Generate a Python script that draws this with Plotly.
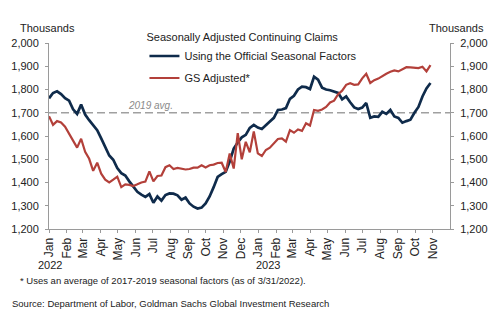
import pandas as pd
import plotly.graph_objects as go

# Weekly continuing claims (thousands), weeks ending Saturday from 2022-01-01
weeks = pd.date_range("2022-01-01", periods=96, freq="7D")

official_sa = [
    1762, 1785, 1792, 1780, 1763, 1752, 1715, 1695, 1735, 1692,
    1668, 1645, 1625, 1590, 1550, 1516, 1498, 1462, 1440, 1430,
    1405, 1382, 1360, 1348, 1338, 1350, 1313, 1340, 1322, 1346,
    1353, 1352, 1345, 1326, 1335, 1310, 1296, 1288, 1292, 1310,
    1340, 1380, 1424, 1436, 1446, 1490, 1546, 1572, 1594, 1605,
    1635, 1648, 1636, 1630, 1644, 1662, 1678, 1712, 1714, 1720,
    1760, 1773, 1800, 1812, 1810, 1802, 1855, 1842, 1808, 1800,
    1797, 1791, 1785, 1758, 1770, 1745, 1723, 1716, 1722, 1742,
    1678, 1684, 1682, 1704, 1695, 1712, 1684, 1678, 1657, 1664,
    1670, 1700, 1725, 1770, 1805, 1828,
]

gs_adjusted = [
    1685, 1648, 1664, 1658, 1640, 1612, 1578, 1550, 1588, 1532,
    1502, 1450, 1485, 1438, 1412, 1400, 1412, 1425, 1380, 1392,
    1390, 1385, 1392, 1400, 1404, 1448, 1405, 1428, 1430, 1466,
    1474, 1458, 1463, 1458, 1456, 1458, 1464, 1464, 1474, 1465,
    1474, 1477, 1484, 1485, 1445, 1525, 1460, 1612, 1500, 1575,
    1530, 1620, 1525, 1514, 1540, 1550, 1570, 1587, 1590, 1576,
    1625, 1614, 1628, 1622, 1655, 1645, 1712, 1708, 1714, 1725,
    1744, 1752, 1780, 1795, 1820, 1827, 1820, 1822, 1848, 1868,
    1828, 1840, 1847, 1858, 1868, 1876, 1882, 1878, 1888, 1896,
    1895, 1892, 1892, 1898, 1878, 1905,
]

avg_2019 = 1700
y_ticks = list(range(1200, 2001, 100))
month_ticks = pd.date_range("2022-01-01", "2023-11-01", freq="MS")

FONT = "Liberation Sans, Arial, sans-serif"
TEXT = "#222222"
AXIS = "#9a9a9a"
NAVY = "#0f2b4b"
BRICK = "#b3403a"

fig = go.Figure()
fig.add_trace(go.Scatter(
    x=weeks, y=official_sa, mode="lines",
    name="Using the Official Seasonal Factors", legendgroup="official",
    line=dict(color=NAVY, width=2.7),
))
fig.add_trace(go.Scatter(
    x=weeks, y=gs_adjusted, mode="lines",
    name="GS Adjusted*", legendgroup="gs",
    line=dict(color=BRICK, width=2.2),
))

fig.add_hline(y=avg_2019, line=dict(color="#a0a0a0", width=1.5, dash="8px,4px"),
              layer="below")

yaxis_common = dict(
    range=[1200, 2000], tickvals=y_ticks, tickformat=",d",
    showgrid=False, zeroline=False, showline=True, linecolor=AXIS, linewidth=1,
    ticks="outside", ticklen=3, tickcolor=AXIS,
    tickfont=dict(family=FONT, size=11, color=TEXT), ticklabelstandoff=4,
)

fig.update_layout(
    width=500, height=321,
    margin=dict(l=49, r=50, t=43, b=92),
    paper_bgcolor="white", plot_bgcolor="white",
    font=dict(family=FONT, size=11, color=TEXT),
    xaxis=dict(
        type="date", range=["2022-01-01", "2023-12-01"],
        tickvals=month_ticks, tickformat="%b", tickangle=-90,
        tickfont=dict(family=FONT, size=12, color=TEXT),
        showgrid=False, zeroline=False, showline=True, linecolor=AXIS,
        ticks="outside", ticklen=3, tickcolor=AXIS,
    ),
    yaxis=yaxis_common,
    yaxis2=dict(yaxis_common, overlaying="y", side="right"),
    legend=dict(
        x=0.238, y=1.085, xanchor="left", yanchor="top",
        bgcolor="rgba(0,0,0,0)", font=dict(family=FONT, size=11, color=TEXT),
        title=dict(text="Seasonally Adjusted Continuing Claims",
                   font=dict(family=FONT, size=11, color=TEXT)),
        itemwidth=30, tracegroupgap=3,
    ),
    showlegend=True,
)

# keep the right-hand axis drawn by attaching an invisible copy of a series
fig.add_trace(go.Scatter(x=weeks, y=official_sa, yaxis="y2", mode="lines",
                         line=dict(width=0), opacity=0, showlegend=False,
                         hoverinfo="skip"))

notes = [
    dict(text="Thousands", x=-0.078, y=1.082, xanchor="left"),
    dict(text="Thousands", x=0.943, y=1.082, xanchor="left"),
    dict(text="2022", x=0.002, y=-0.196, xanchor="center"),
    dict(text="2023", x=0.545, y=-0.196, xanchor="center"),
    dict(text="* Uses an average of 2017-2019 seasonal factors (as of 3/31/2022).",
         x=-0.078, y=-0.276, xanchor="left", size=9.5),
    dict(text="Source: Department of Labor, Goldman Sachs Global Investment Research",
         x=-0.098, y=-0.402, xanchor="left", size=9.5),
]
for n in notes:
    fig.add_annotation(
        text=n["text"], x=n["x"], y=n["y"], xref="paper", yref="paper",
        xanchor=n["xanchor"], yanchor="middle", showarrow=False,
        font=dict(family=FONT, size=n.get("size", 11), color=TEXT),
    )

fig.add_annotation(
    text="<i>2019 avg.</i>", x=0.254, y=avg_2019, xref="paper", yref="y",
    xanchor="center", yanchor="bottom", yshift=0, showarrow=False,
    font=dict(family=FONT, size=10, color="#8a8a8a"),
)

fig.write_html("out.html")
